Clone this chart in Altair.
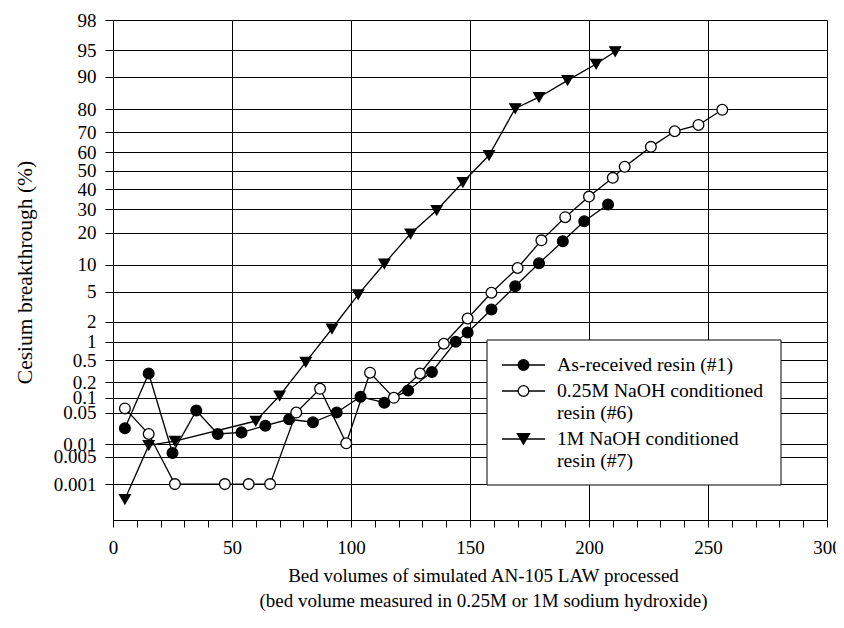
import altair as alt
import pandas as pd
from statistics import NormalDist

ND = NormalDist()


def probit(pct):
    return ND.inv_cdf(pct / 100.0)


# ---- data (bed volumes, % breakthrough) ----
names = ["As-received resin (#1)",
         "0.25M NaOH conditioned resin (#6)",
         "1M NaOH conditioned resin (#7)"]

x_r1 = [5, 15, 25, 35, 44, 54, 64, 74, 84, 94, 104, 114, 124, 134, 144, 149,
        159, 169, 179, 189, 198, 208]
y_r1 = [0.023, 0.29, 0.0061, 0.055, 0.017, 0.0185, 0.026, 0.036, 0.031, 0.050,
        0.105, 0.080, 0.14, 0.31, 1.0, 1.39, 2.96, 5.8, 10.4, 16.9, 24.6, 32.3]

x_r6 = [5, 15, 26, 47, 57, 66, 77, 87, 98, 108, 118, 129, 139, 149, 159, 170,
        180, 190, 200, 210, 215, 226, 236, 246, 256]
y_r6 = [0.061, 0.017, 0.001, 0.001, 0.001, 0.001, 0.050, 0.15, 0.0104, 0.30,
        0.10, 0.29, 0.93, 2.22, 4.85, 9.3, 17.2, 26.4, 36.3, 46.2, 52.2, 62.8,
        70.5, 73.4, 79.7]

x_r7 = [5, 15, 26, 60, 70, 81, 92, 103, 114, 125, 136, 147, 158, 169, 179,
        191, 203, 211]
y_r7 = [0.00039, 0.0093, 0.0117, 0.033, 0.11, 0.46, 1.58, 4.6, 10.3, 19.6,
        29.6, 43.8, 58.4, 80.2, 84.2, 89.1, 92.7, 94.8]

y_tick_pct = [0.001, 0.005, 0.01, 0.05, 0.1, 0.2, 0.5, 1, 2, 5, 10, 20, 30,
              40, 50, 60, 70, 80, 90, 95, 98]
y_tick_labels = ["0.001", "0.005", "0.01", "0.05", "0.1", "0.2", "0.5", "1",
                 "2", "5", "10", "20", "30", "40", "50", "60", "70", "80",
                 "90", "95", "98"]
x_tick_values = list(range(0, 301, 10))

shapes = ["circle", "circle", "triangle-down"]
fills = ["black", "white", "black"]
sizes = [115, 115, 150]

# ---- table ----
rows = []
for nm, xs, ys in zip(names, [x_r1, x_r6, x_r7], [y_r1, y_r6, y_r7]):
    for xv, yv in zip(xs, ys):
        rows.append({"series": nm, "bv": xv, "pct": yv, "z": round(probit(yv), 10)})
df = pd.DataFrame(rows)

y_vals = [round(probit(p), 10) for p in y_tick_pct]
parts = [f"abs(datum.value - ({v})) < 1e-6 ? '{lab}'" for v, lab in zip(y_vals, y_tick_labels)]
y_label_expr = " : ".join(parts) + " : ''"

FONT = "Liberation Serif"

x_enc = alt.X(
    "bv:Q",
    scale=alt.Scale(domain=[0, 300], nice=False, zero=False),
    axis=alt.Axis(
        values=x_tick_values,
        labelExpr="datum.value % 50 === 0 ? datum.label : ''",
        grid=True, gridColor="black", gridWidth=1,
        gridOpacity={"condition": {"test": "datum.value % 50 === 0", "value": 1}, "value": 0},
        domainColor="black", domainWidth=1,
        tickColor="black", tickSize=7, tickWidth=1,
        labelFont=FONT, labelFontSize=19, labelColor="black", labelPadding=11,
        labelOverlap=False, labelFlush=False, labelBound=False,
        title=["Bed volumes of simulated AN-105 LAW processed",
               "(bed volume measured in 0.25M or 1M sodium hydroxide)"],
        titleFont=FONT, titleFontSize=19, titleFontWeight="normal", titleColor="black",
        titleLineHeight=25, titleX=370, titleY=61, titleAlign="center",
        titleBaseline="alphabetic",
    ),
)

y_enc = alt.Y(
    "z:Q",
    scale=alt.Scale(domain=[probit(0.0001), probit(98)], nice=False, zero=False),
    axis=alt.Axis(
        values=y_vals, labelExpr=y_label_expr,
        grid=True, gridColor="black", gridWidth=1,
        domainColor="black", domainWidth=1,
        tickColor="black", tickSize=8, tickWidth=1,
        labelFont=FONT, labelFontSize=19, labelColor="black", labelPadding=9,
        labelOverlap=False, labelBound=False, labelFlush=False,
        title="Cesium breakthrough (%)",
        titleFont=FONT, titleFontSize=21.5, titleFontWeight="normal", titleColor="black",
        titleX=-88, titleY=252, titleAngle=270, titleAlign="center",
        titleBaseline="middle",
    ),
)

base = alt.Chart(df).encode(x=x_enc, y=y_enc)

lines = base.mark_line(color="black", strokeWidth=1.3).encode(
    detail="series:N", order="bv:Q"
)

points = base.mark_point(filled=True, stroke="black", strokeWidth=1.3, opacity=1).encode(
    shape=alt.Shape("series:N", scale=alt.Scale(domain=names, range=shapes), legend=None),
    fill=alt.Fill("series:N", scale=alt.Scale(domain=names, range=fills), legend=None),
    size=alt.Size("series:N", scale=alt.Scale(domain=names, range=sizes), legend=None),
)

one = alt.Data(values=[{"k": 1}])

layers = [lines, points]

# legend box (layout in pixels relative to plot area)
layers.append(
    alt.Chart(one).mark_rect(fill="white", stroke="black", strokeWidth=1).encode(
        x=alt.value(374), x2=alt.value(668), y=alt.value(320), y2=alt.value(465)
    )
)

sym_y = [345, 371, 419]
for i in range(3):
    layers.append(
        alt.Chart(one).mark_rule(color="black", strokeWidth=1.3).encode(
            x=alt.value(389), x2=alt.value(432), y=alt.value(sym_y[i])
        )
    )
    layers.append(
        alt.Chart(one).mark_point(shape=shapes[i], filled=True, fill=fills[i],
                                  stroke="black", strokeWidth=1.3, size=sizes[i],
                                  opacity=1).encode(
            x=alt.value(410.5), y=alt.value(sym_y[i])
        )
    )

legend_lines = [("As-received resin (#1)", 345),
                ("0.25M NaOH conditioned", 371),
                ("resin (#6)", 393),
                ("1M NaOH conditioned", 419),
                ("resin (#7)", 441)]
for txt, ty in legend_lines:
    layers.append(
        alt.Chart(one).mark_text(text=txt, align="left", baseline="middle",
                                 font=FONT, fontSize=19.7, color="black").encode(
            x=alt.value(444), y=alt.value(ty)
        )
    )

chart = alt.layer(*layers).properties(
    width=714, height=500,
    autosize=alt.AutoSizeParams(type="none"),
    padding={"left": 105, "top": 12, "right": 9, "bottom": 100},
    background="white",
).configure_view(stroke=None)

chart.save("out.html", embed_options={"renderer": "svg", "actions": False})
